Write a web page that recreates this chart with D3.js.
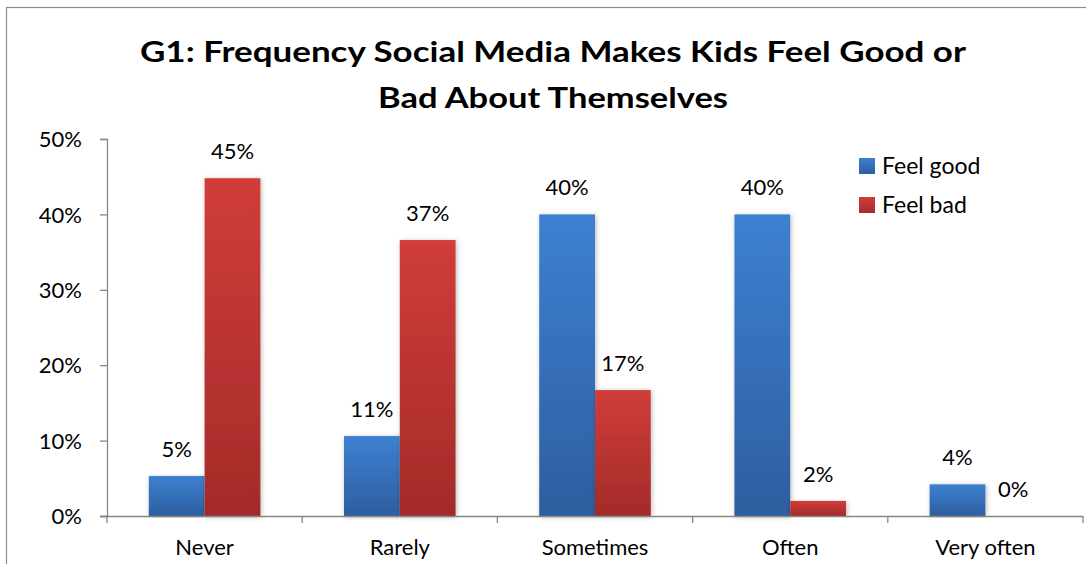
<!DOCTYPE html>
<html>
<head>
<meta charset="utf-8">
<script src="https://cdn.jsdelivr.net/npm/d3@7"></script>
<style>
  html, body { margin: 0; padding: 0; background: #fff; }
  svg { display: block; }
  text { font-family: Lato, "Open Sans", sans-serif; fill: #000; }
</style>
</head>
<body>
<svg id="chart" width="1086" height="564"></svg>
<script>
// Survey answers: how often social media makes kids feel good / bad
const categories = ["Never", "Rarely", "Sometimes", "Often", "Very often"];
const seriesNames = ["Feel good", "Feel bad"];
const feelGood = [0.053, 0.106, 0.400, 0.400, 0.042];
const feelBad = [0.448, 0.366, 0.167, 0.020, 0.000];
const yTicks = [0, 0.1, 0.2, 0.3, 0.4, 0.5];
const titleLines = ["G1:  Frequency Social Media Makes Kids Feel Good or", "Bad About Themselves"];

const svg = d3.select("#chart");
const W = 1086, H = 564;
const margin = { left: 107, right: 3, top: 139, bottom: 48 };

// outer chart frame (runs past the right and bottom edges)
svg.append("rect")
  .attr("x", 6.5).attr("y", 7.5)
  .attr("width", 1200).attr("height", 700)
  .attr("fill", "#fff").attr("stroke", "#8c8c8c").attr("stroke-width", 1.2);

const defs = svg.append("defs");
function grad(id, top, bottom) {
  const g = defs.append("linearGradient").attr("id", id)
    .attr("x1", 0).attr("y1", 0).attr("x2", 0).attr("y2", 1);
  g.append("stop").attr("offset", "0%").attr("stop-color", top);
  g.append("stop").attr("offset", "100%").attr("stop-color", bottom);
}
grad("gGood", "#3d80d2", "#2d5e9e");
grad("gBad", "#d03d3a", "#a32b29");
const shadow = defs.append("filter").attr("id", "barShadow")
  .attr("x", "-20%").attr("y", "-5%").attr("width", "140%").attr("height", "110%");
shadow.append("feDropShadow").attr("dx", 1).attr("dy", 1)
  .attr("stdDeviation", 2.5).attr("flood-color", "#000").attr("flood-opacity", 0.28);

const x0 = d3.scaleBand().domain(categories)
  .range([margin.left, W - margin.right]).paddingInner(0).paddingOuter(0);
const x1 = d3.scaleBand().domain(seriesNames)
  .range([0, x0.bandwidth()]).paddingInner(0).paddingOuter(0.75);
const y = d3.scaleLinear().domain([0, 0.5]).range([H - margin.bottom, margin.top]);

const fills = { "Feel good": "url(#gGood)", "Feel bad": "url(#gBad)" };
const rows = categories.map((c, i) => ({
  cat: c,
  vals: [{ s: "Feel good", v: feelGood[i] }, { s: "Feel bad", v: feelBad[i] }]
}));

// title
const title = svg.append("g");
titleLines.forEach((t, i) => {
  title.append("text")
    .attr("x", 553).attr("y", 62 + i * 46)
    .attr("text-anchor", "middle")
    .attr("font-size", 29).attr("font-weight", "bold")
    .attr("textLength", i === 0 ? 826 : 350)
    .attr("lengthAdjust", "spacingAndGlyphs")
    .text(t);
});

// bars
const groups = svg.append("g").selectAll("g").data(rows).join("g")
  .attr("transform", d => `translate(${x0(d.cat)},0)`);
groups.selectAll("rect").data(d => d.vals.filter(v => v.v > 0)).join("rect")
  .attr("x", d => x1(d.s))
  .attr("y", d => y(d.v))
  .attr("width", x1.bandwidth())
  .attr("height", d => y(0) - y(d.v))
  .attr("fill", d => fills[d.s])
  .attr("filter", "url(#barShadow)");

// value labels
const fmt = d3.format(".0%");
groups.selectAll("text").data(d => d.vals).join("text")
  .attr("x", d => x1(d.s) + x1.bandwidth() / 2)
  .attr("y", d => y(d.v) - 19)
  .attr("text-anchor", "middle")
  .attr("font-size", 22)
  .text(d => fmt(d.v));

// y axis
const yAxis = svg.append("g").attr("transform", `translate(${margin.left},0)`)
  .call(d3.axisLeft(y).tickValues(yTicks).tickFormat(d3.format(".0%")).tickSizeOuter(0).tickSize(7).tickPadding(18));
// x axis
const xAxis = svg.append("g").attr("transform", `translate(0,${y(0)})`)
  .call(d3.axisBottom(x0).tickSize(0).tickPadding(0));
const bounds = categories.map(c => x0(c)).concat([x0(categories[categories.length - 1]) + x0.bandwidth()]);
xAxis.selectAll(".bound").data(bounds).join("line").attr("class", "bound")
  .attr("x1", d => d).attr("x2", d => d).attr("y1", 0).attr("y2", 7)
  .attr("stroke", "#868686").attr("stroke-width", 1.3);
xAxis.select(".domain").attr("d", `M${margin.left - 7},0.5H${W - margin.right}`);

[yAxis, xAxis].forEach(a => {
  a.selectAll(".domain").attr("stroke", "#868686").attr("stroke-width", 1.3);
  a.selectAll(".tick line").attr("stroke", "#868686").attr("stroke-width", 1.3);
  a.selectAll(".tick text").attr("font-size", 22).attr("fill", "#000")
    .attr("font-family", "Lato, 'Open Sans', sans-serif");
});
yAxis.selectAll(".tick text").attr("dy", "0.35em");
xAxis.selectAll(".tick text").attr("y", 39).attr("dy", 0);
yAxis.raise();

// legend
const legend = svg.append("g").attr("transform", "translate(859,158)");
seriesNames.forEach((s, i) => {
  const g = legend.append("g").attr("transform", `translate(0,${i * 39})`);
  g.append("rect").attr("width", 16).attr("height", 16).attr("fill", fills[s]);
  g.append("text").attr("x", 23).attr("y", 16).attr("font-size", 23).text(s);
});
</script>
</body>
</html>
